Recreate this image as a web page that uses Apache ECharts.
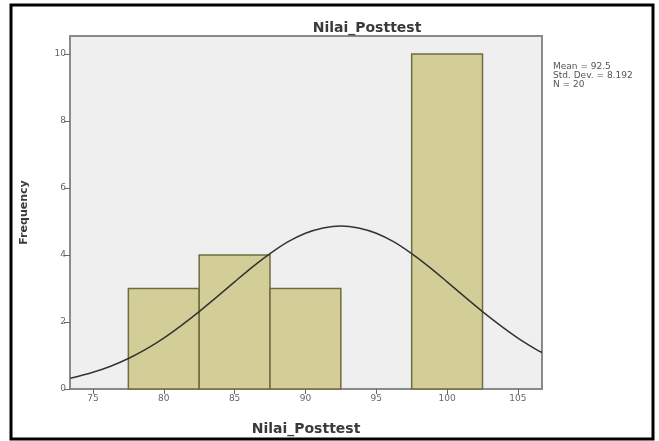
<!DOCTYPE html>
<html>
<head>
<meta charset="utf-8">
<script src="https://cdn.jsdelivr.net/npm/echarts@6/dist/echarts.min.js"></script>
<style>
html,body{margin:0;padding:0;background:#fff;}
#c{width:659px;height:441px;}
</style>
</head>
<body>
<div id="c"></div>
<script>
// Histogram bins (bin centre, frequency), bin width 5
const binCenters = [80, 85, 90, 95, 100];
const binCounts = [3, 4, 3, 0, 10];
const binWidth = 5;
// Normal curve (x, frequency)
const curveX = [73.4, 75, 76.25, 77.5, 78.75, 80, 81.25, 82.5, 83.75, 85, 86.25, 87.5, 88.75, 90, 91.25, 92.5,
                93.75, 95, 96.25, 97.5, 98.75, 100, 101.25, 102.5, 103.75, 105, 106.25, 106.7];
const curveY = [0.32, 0.50, 0.68, 0.91, 1.19, 1.52, 1.90, 2.31, 2.75, 3.20, 3.64, 4.04, 4.39, 4.65, 4.81, 4.87,
                4.81, 4.65, 4.39, 4.04, 3.64, 3.20, 2.75, 2.31, 1.90, 1.52, 1.19, 1.09];
// Tick labels
const xTicks = [75, 80, 85, 90, 95, 100, 105];
const yTicks = [0, 2, 4, 6, 8, 10];
// Statistics box
const statsLines = ['Mean = 92.5', 'Std. Dev. = 8.192', 'N = 20'];

const chart = echarts.init(document.getElementById('c'), null, {renderer: 'canvas'});
const font = 'DejaVu Sans';
const option = {
  animation: false,
  backgroundColor: '#ffffff',
  title: [
    {text: 'Nilai_Posttest', left: 362, top: 16, textAlign: 'center',
     textStyle: {fontFamily: font, fontSize: 14, fontWeight: 'bold', color: '#3a3a3a'}},
    {text: statsLines.join('\n'), left: 548, top: 57,
     textStyle: {fontFamily: font, fontSize: 9, fontWeight: 'normal', color: '#555', lineHeight: 9}}
  ],
  graphic: [
    {type: 'rect', shape: {x: 11, y: 5, width: 642, height: 434}, silent: true, z: 100,
     style: {fill: 'none', stroke: '#000', lineWidth: 3}}
  ],
  grid: {left: 70, top: 36, width: 472, height: 353, show: true,
         backgroundColor: '#efefef', borderColor: '#8a8a8a', borderWidth: 2},
  xAxis: {
    type: 'value', min: 73.38, max: 106.7,
    name: 'Nilai_Posttest', nameLocation: 'middle', nameGap: 33,
    nameTextStyle: {fontFamily: font, fontSize: 14, fontWeight: 'bold', color: '#3a3a3a'},
    axisLine: {show: true, lineStyle: {color: '#8a8a8a', width: 2}},
    axisTick: {show: true, length: 5, customValues: xTicks, lineStyle: {color: '#666'}},
    axisLabel: {customValues: xTicks, fontFamily: font, fontSize: 9, color: '#666', margin: 5},
    splitLine: {show: false}
  },
  yAxis: {
    type: 'value', min: 0, max: 10.54,
    name: 'Frequency', nameLocation: 'middle', nameGap: 40, nameRotate: 90,
    nameTextStyle: {fontFamily: font, fontSize: 11, fontWeight: 'bold', color: '#3a3a3a'},
    axisLine: {show: true, lineStyle: {color: '#8a8a8a', width: 2}},
    axisTick: {show: true, length: 6, customValues: yTicks, lineStyle: {color: '#666'}},
    axisLabel: {customValues: yTicks, fontFamily: font, fontSize: 9, color: '#666', margin: 4},
    splitLine: {show: false}
  },
  series: [
    {
      type: 'custom',
      data: binCenters.map((c, i) => [c, binCounts[i]]),
      renderItem: function (params, api) {
        const c = api.value(0), v = api.value(1);
        if (!v) return null;
        const p1 = api.coord([c - binWidth / 2, v]);
        const p2 = api.coord([c + binWidth / 2, 0]);
        return {
          type: 'rect',
          shape: {x: p1[0], y: p1[1], width: p2[0] - p1[0], height: p2[1] - p1[1]},
          style: {fill: '#d3ce97', stroke: '#6f6c42', lineWidth: 1.5}
        };
      },
      z: 2
    },
    {
      type: 'line', smooth: 0.3, symbol: 'none',
      data: curveX.map((x, i) => [x, curveY[i]]),
      lineStyle: {color: '#333', width: 1.5},
      z: 3
    }
  ]
};
chart.setOption(option);
</script>
</body>
</html>
